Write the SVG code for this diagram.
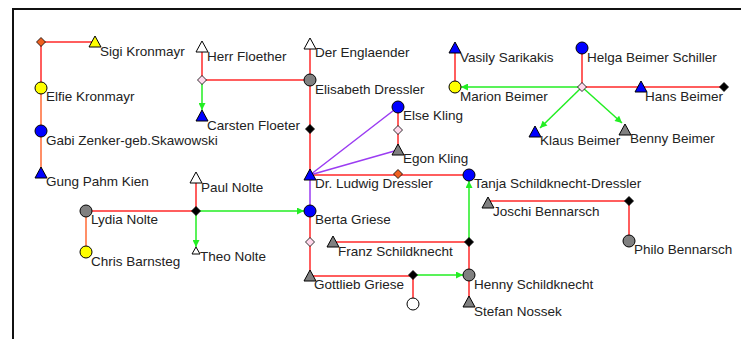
<svg xmlns="http://www.w3.org/2000/svg" xmlns:xlink="http://www.w3.org/1999/xlink" width="741" height="339" viewBox="0 0 741 339">
<style>
text{font-family:"Liberation Sans",Arial,sans-serif;font-size:13.5px;fill:#222}
.r{stroke:#ff2a2a;stroke-width:1.5;fill:none}
.o{stroke:#ff6a35;stroke-width:1.5;fill:none}
.g{stroke:#22ee22;stroke-width:1.5;fill:none;marker-end:url(#ah)}
.p{stroke:#9b3cf2;stroke-width:1.5;fill:none}
.nd{stroke:#000;stroke-width:1}
.bl{fill:#0000ff}.ye{fill:#ffff00}.wh{fill:#ffffff}.gr{fill:#808080}.bk{fill:#000}.pk{fill:#ffd9ec}.or{fill:#ee6020}
</style>
<defs>
<marker id="ah" viewBox="0 0 10 10" refX="10" refY="5" markerWidth="8" markerHeight="7" markerUnits="userSpaceOnUse" orient="auto"><path d="M0,0L10,5L0,10z" fill="#22ee22"/></marker>
<path id="tri" d="M0,-6L6,5L-6,5z" stroke="#000" stroke-width="1"/>
<circle id="cir" r="6" stroke="#000" stroke-width="1"/>
<path id="dia" d="M0,-4.5L4.5,0L0,4.5L-4.5,0z" stroke="#000" stroke-width="0.8"/>
</defs>
<rect x="13" y="9" width="760" height="340" fill="none" stroke="#111" stroke-width="2"/>
<g id="connectors">
<path class="r" d="M41,42H95M41,42V88"/>
<path class="o" d="M41,88V173"/>
<path class="r" d="M202,47V80H310M310,44V175"/>
<path class="g" d="M202,80V110"/>
<path class="r" d="M398,107V150M310,175H469"/>
<path class="p" d="M310,175L398,107M310,175L398,150M310,175V211"/>
<path class="r" d="M86,211H196M196,178V211"/>
<path class="o" d="M86,211V252"/>
<path class="g" d="M196,211V247"/>
<path class="g" d="M196,211H304"/>
<path class="r" d="M310,211V276H413V304M333,242H469V302"/>
<path class="g" d="M469,242V181"/>
<path class="g" d="M413,275H463"/>
<path class="r" d="M455,48V87M582,48V87H724M488,201H629V241"/>
<path class="g" d="M582,87H461"/>
<path class="g" d="M582,87L540,128"/>
<path class="g" d="M582,87L622,123"/>
</g>
<g id="n-marriage-kronmayr"><use xlink:href="#dia" x="41" y="42" class="or"/></g>
<g id="n-sigi"><use xlink:href="#tri" x="95" y="42" class="ye"/><text x="100" y="56">Sigi Kronmayr</text></g>
<g id="n-elfie"><use xlink:href="#cir" x="41" y="88" class="ye"/><text x="46" y="101">Elfie Kronmayr</text></g>
<g id="n-gabi"><use xlink:href="#cir" x="41" y="131" class="bl"/><text x="46" y="145">Gabi Zenker-geb.Skawowski</text></g>
<g id="n-gung"><use xlink:href="#tri" x="41" y="173" class="bl"/><text x="46" y="186">Gung Pahm Kien</text></g>
<g id="n-herr-floether"><use xlink:href="#tri" x="202" y="47" class="wh"/><text x="207" y="61">Herr Floether</text></g>
<g id="n-marriage-floether"><use xlink:href="#dia" x="202" y="80" class="pk"/></g>
<g id="n-carsten"><use xlink:href="#tri" x="202" y="116" class="bl"/><text x="207" y="130">Carsten Floeter</text></g>
<g id="n-englaender"><use xlink:href="#tri" x="310" y="44" class="wh"/><text x="315" y="57">Der Englaender</text></g>
<g id="n-elisabeth"><use xlink:href="#cir" x="310" y="80" class="gr"/><text x="315" y="94">Elisabeth Dressler</text></g>
<g id="n-marriage-dressler"><use xlink:href="#dia" x="310" y="129" class="bk"/></g>
<g id="n-else"><use xlink:href="#cir" x="398" y="107" class="bl"/><text x="403" y="120">Else Kling</text></g>
<g id="n-marriage-kling"><use xlink:href="#dia" x="398" y="130" class="pk"/></g>
<g id="n-egon"><use xlink:href="#tri" x="398" y="150" class="gr"/><text x="403" y="163">Egon Kling</text></g>
<g id="n-ludwig"><use xlink:href="#tri" x="310" y="175" class="bl"/><text x="315" y="188">Dr. Ludwig Dressler</text></g>
<g id="n-marriage-ludwig"><use xlink:href="#dia" x="398" y="174" class="or"/></g>
<g id="n-tanja"><use xlink:href="#cir" x="469" y="175" class="bl"/><text x="474" y="188">Tanja Schildknecht-Dressler</text></g>
<g id="n-paul"><use xlink:href="#tri" x="196" y="178" class="wh"/><text x="201" y="192">Paul Nolte</text></g>
<g id="n-marriage-nolte"><use xlink:href="#dia" x="196" y="211" class="bk"/></g>
<g id="n-lydia"><use xlink:href="#cir" x="86" y="211" class="gr"/><text x="91" y="224">Lydia Nolte</text></g>
<g id="n-chris"><use xlink:href="#cir" x="86" y="252" class="ye"/><text x="91" y="266">Chris Barnsteg</text></g>
<g id="n-theo"><path d="M196,247L200,254L192,254z" class="wh" stroke="#000" stroke-width="1"/><text x="200" y="261">Theo Nolte</text></g>
<g id="n-berta"><use xlink:href="#cir" x="310" y="211" class="bl"/><text x="315" y="224">Berta Griese</text></g>
<g id="n-marriage-griese"><use xlink:href="#dia" x="310" y="242" class="pk"/></g>
<g id="n-franz"><use xlink:href="#tri" x="333" y="242" class="gr"/><text x="338" y="256">Franz Schildknecht</text></g>
<g id="n-marriage-schildknecht"><use xlink:href="#dia" x="469" y="242" class="bk"/></g>
<g id="n-gottlieb"><use xlink:href="#tri" x="310" y="276" class="gr"/><text x="314" y="289">Gottlieb Griese</text></g>
<g id="n-marriage-gottlieb"><use xlink:href="#dia" x="413" y="275" class="bk"/></g>
<g id="n-unknown"><use xlink:href="#cir" x="413" y="304" class="wh"/></g>
<g id="n-henny"><use xlink:href="#cir" x="469" y="275" class="gr"/><text x="474" y="289">Henny Schildknecht</text></g>
<g id="n-stefan"><use xlink:href="#tri" x="469" y="302" class="gr"/><text x="474" y="316">Stefan Nossek</text></g>
<g id="n-vasily"><use xlink:href="#tri" x="455" y="48" class="bl"/><text x="460" y="62">Vasily Sarikakis</text></g>
<g id="n-marion"><use xlink:href="#cir" x="455" y="87" class="ye"/><text x="460" y="101">Marion Beimer</text></g>
<g id="n-helga"><use xlink:href="#cir" x="582" y="48" class="bl"/><text x="587" y="62">Helga Beimer Schiller</text></g>
<g id="n-marriage-beimer"><use xlink:href="#dia" x="582" y="87" class="pk"/></g>
<g id="n-hans"><use xlink:href="#tri" x="641" y="87" class="bl"/><text x="645" y="101">Hans Beimer</text></g>
<g id="n-marriage-hans"><use xlink:href="#dia" x="724" y="87" class="bk"/></g>
<g id="n-klaus"><use xlink:href="#tri" x="535" y="132" class="bl"/><text x="540" y="145">Klaus Beimer</text></g>
<g id="n-benny"><use xlink:href="#tri" x="625" y="130" class="gr"/><text x="630" y="143">Benny Beimer</text></g>
<g id="n-joschi"><use xlink:href="#tri" x="488" y="203" class="gr"/><text x="493" y="216">Joschi Bennarsch</text></g>
<g id="n-marriage-bennarsch"><use xlink:href="#dia" x="629" y="201" class="bk"/></g>
<g id="n-philo"><use xlink:href="#cir" x="629" y="241" class="gr"/><text x="634" y="254">Philo Bennarsch</text></g>
</svg>
